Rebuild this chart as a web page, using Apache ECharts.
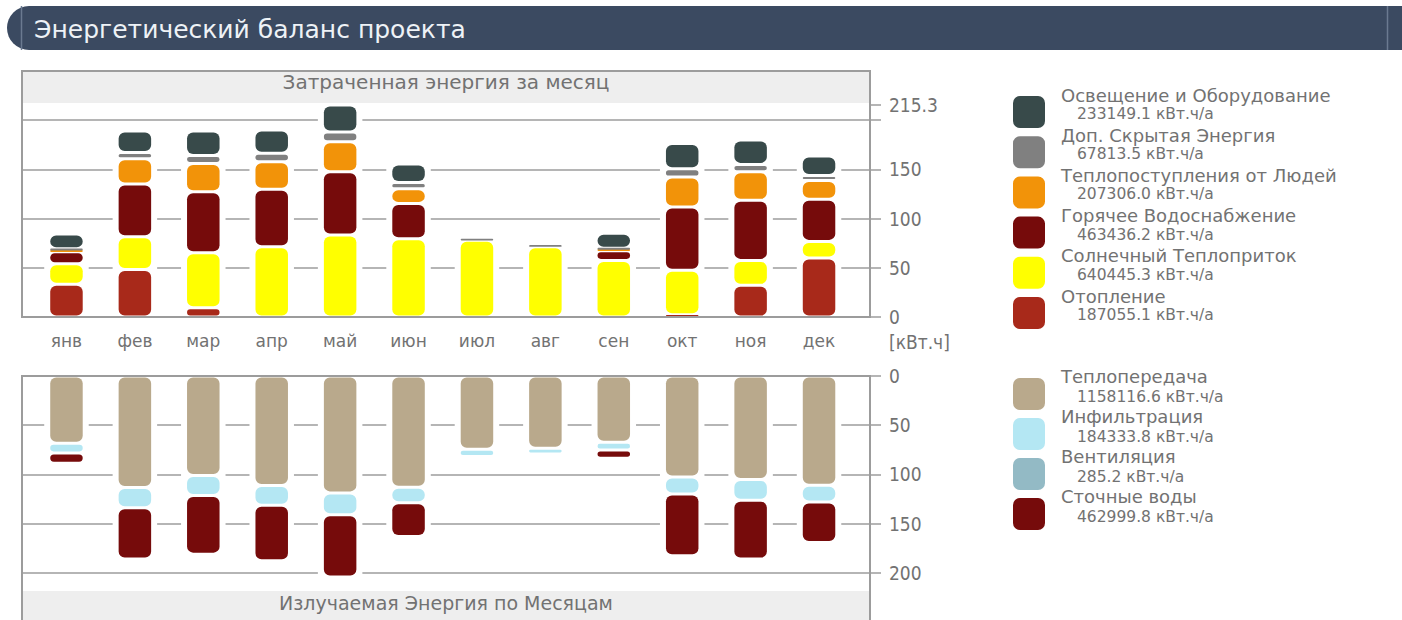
<!DOCTYPE html>
<html>
<head>
<meta charset="utf-8">
<script src="https://cdn.jsdelivr.net/npm/echarts@6/dist/echarts.min.js"></script>
<style>
  html, body { margin: 0; padding: 0; background: #ffffff; }
  #chart { width: 1402px; height: 620px; }
</style>
</head>
<body>
<div id="chart"></div>
<script>
// ---- data ---------------------------------------------------------------
const months = ['янв', 'фев', 'мар', 'апр', 'май', 'июн', 'июл', 'авг', 'сен', 'окт', 'ноя', 'дек'];

// consumed energy per month (stacked from the bottom up)
const heating  = [33.3, 48.2, 9.5, 0, 0, 0, 0, 0, 0, 2.4, 32.2, 59.9];
const solar    = [20.8, 33.3, 55.8, 71.4, 83.2, 79.5, 77.9, 71.4, 57.5, 45.0, 25.3, 16.9];
const hotWater = [12.2, 53.5, 61.9, 58.4, 64.3, 35.7, 0, 0, 9.8, 64.3, 61.0, 42.8];
const people   = [1.5, 25.6, 28.8, 27.9, 30.5, 15.1, 0, 0, 1.5, 30.4, 29.0, 19.0];
const latent   = [1.5, 6.4, 8.1, 8.5, 9.8, 6.2, 1.5, 1.5, 1.0, 8.5, 7.5, 5.2];
const lighting = [15.0, 21.8, 24.7, 23.6, 27.5, 18.8, 0, 0, 15.2, 25.7, 24.7, 19.7];

// emitted energy per month (stacked from the top down)
const transmission = [68.3, 113.3, 101.1, 111.2, 118.7, 113.1, 74.5, 73.4, 67.4, 102.6, 105.1, 110.9];
const infiltration = [9.8, 20.6, 20.3, 20.0, 22.3, 15.7, 7.3, 5.7, 7.7, 17.3, 21.0, 17.1];
const ventilation  = [0, 0, 0, 0, 0, 0, 0, 0, 0, 0, 0, 0];
const wastewater   = [10.5, 52.0, 59.5, 56.4, 63.2, 34.2, 0, 0, 8.4, 62.7, 59.8, 41.0];

const consumedNames  = ['Освещение и Оборудование', 'Доп. Скрытая Энергия', 'Теплопоступления от Людей',
                        'Горячее Водоснабжение', 'Солнечный Теплоприток', 'Отопление'];
const consumedTotals = ['233149.1', '67813.5', '207306.0', '463436.2', '640445.3', '187055.1'];
const emittedNames   = ['Теплопередача', 'Инфильтрация', 'Вентиляция', 'Сточные воды'];
const emittedTotals  = ['1158116.6', '184333.8', '285.2', '462999.8'];
const unitYear = 'кВт.ч/а';

const axisMax = 215.3;
const topTickLabels    = [0, 50, 100, 150, 215.3];
const topTicks         = [0, 50, 100, 150, 200, 215.3];
const bottomTickLabels = [0, 50, 100, 150, 200];

const chartTitle   = 'Энергетический баланс проекта';
const topTitle     = 'Затраченная энергия за месяц';
const bottomTitle  = 'Излучаемая Энергия по Месяцам';
const unitLabel    = '[кВт.ч]';

// ---- styling ------------------------------------------------------------
const C = {
  lighting: '#384a4a', latent: '#808080', people: '#f29309', hotWater: '#760b0b',
  solar: '#ffff00', heating: '#a8291a',
  transmission: '#b9a98c', infiltration: '#b4e7f3', ventilation: '#93bac5', wastewater: '#760b0b',
  grid: '#9c9c9c', text: '#727272', band: '#eeeeee', banner: '#3b4a61'
};
const FONT = "'DejaVu Sans', sans-serif";
const NUM_FONT = "'DejaVu Sans Condensed', 'DejaVu Sans', sans-serif";
const BAR_RATIO = 0.475;   // bar width as share of one month slot
const GAP = 3;             // white gap between stacked pieces
const X_MIN = -0.65, X_MAX = 11.745;

// ---- helpers --------------------------------------------------------------
function stackBases(layers) {
  const bases = [];
  let run = months.map(() => 0);
  layers.forEach(vals => {
    bases.push(run.slice());
    run = run.map((v, i) => v + vals[i]);
  });
  return { bases, totals: run };
}

function pieceRenderer(color) {
  return function (params, api) {
    const val = api.value(2);
    if (!(val > 0)) return null;
    const i = api.value(0), base = api.value(1);
    const p0 = api.coord([i, base]);
    const p1 = api.coord([i, base + val]);
    const bw = api.size([1, 0])[0] * BAR_RATIO;
    const top = Math.min(p0[1], p1[1]), bot = Math.max(p0[1], p1[1]);
    let y = top + GAP / 2, h = bot - top - GAP;
    if (h < 1.8) { const c = (top + bot) / 2; y = c - 0.9; h = 1.8; }
    const r = Math.min(6, h / 2);
    return {
      type: 'rect',
      shape: { x: p0[0] - bw / 2, y: y, width: bw, height: h, r: r },
      style: { fill: color }
    };
  };
}

// white backing behind each column so grid lines stop short of the bars
function haloRenderer(params, api) {
  const total = api.value(1);
  if (!(total > 0)) return null;
  const i = api.value(0);
  const p0 = api.coord([i, 0]);
  const p1 = api.coord([i, total]);
  const bw = api.size([1, 0])[0] * BAR_RATIO + 12;
  const dir = p1[1] < p0[1] ? -1 : 1;
  const yStart = p0[1] + dir * 1.6;
  const yEnd = p1[1] + dir * 3;
  return {
    type: 'rect',
    shape: { x: p0[0] - bw / 2, y: Math.min(yStart, yEnd), width: bw, height: Math.abs(yEnd - yStart) },
    style: { fill: '#ffffff' }
  };
}

const topLayers = [
  { name: 'Отопление', vals: heating, color: C.heating },
  { name: 'Солнечный Теплоприток', vals: solar, color: C.solar },
  { name: 'Горячее Водоснабжение', vals: hotWater, color: C.hotWater },
  { name: 'Теплопоступления от Людей', vals: people, color: C.people },
  { name: 'Доп. Скрытая Энергия', vals: latent, color: C.latent },
  { name: 'Освещение и Оборудование', vals: lighting, color: C.lighting }
];
const bottomLayers = [
  { name: 'Теплопередача', vals: transmission, color: C.transmission },
  { name: 'Инфильтрация', vals: infiltration, color: C.infiltration },
  { name: 'Вентиляция', vals: ventilation, color: C.ventilation },
  { name: 'Сточные воды', vals: wastewater, color: C.wastewater }
];

function buildSeries(layers, axisIndex, idPrefix) {
  const st = stackBases(layers.map(l => l.vals));
  const out = [{
    id: idPrefix + '-halo', type: 'custom', xAxisIndex: axisIndex, yAxisIndex: axisIndex,
    z: 1, silent: true, renderItem: haloRenderer,
    data: st.totals.map((t, i) => [i, t])
  }];
  layers.forEach((l, k) => {
    out.push({
      name: l.name, type: 'custom', xAxisIndex: axisIndex, yAxisIndex: axisIndex, z: 2,
      renderItem: pieceRenderer(l.color),
      itemStyle: { color: l.color },
      encode: { x: 0, y: [1, 2] },
      data: l.vals.map((v, i) => [i, st.bases[k][i], v])
    });
  });
  return out;
}

const monthIdx = months.map((m, i) => i);

function xAxisCfg(gridIndex, showLabels, position) {
  return {
    type: 'value', gridIndex: gridIndex, min: X_MIN, max: X_MAX, position: position,
    axisLine: { show: true, onZero: false, lineStyle: { color: C.grid, width: 2 } },
    axisTick: { show: false },
    splitLine: { show: false },
    axisLabel: {
      show: showLabels, customValues: monthIdx, margin: 15,
      formatter: v => months[Math.round(v)] || '',
      color: C.text, fontFamily: FONT, fontSize: 17
    }
  };
}

function yAxisCfg(gridIndex, inverse, labels, ticks, showMaxLine, extra) {
  return Object.assign({
    type: 'value', gridIndex: gridIndex, position: 'right', inverse: inverse,
    min: 0, max: axisMax, interval: 50,
    axisLine: { show: true, onZero: false, lineStyle: { color: C.grid, width: 2 } },
    axisTick: { show: true, inside: false, length: 11, customValues: ticks, lineStyle: { color: C.grid, width: 1.5 } },
    splitLine: { show: true, showMinLine: false, showMaxLine: showMaxLine, lineStyle: { color: C.grid, width: 1.5 } },
    axisLabel: {
      customValues: labels, margin: 19, color: C.text,
      fontFamily: NUM_FONT, fontSize: 19,
      formatter: v => String(v)
    }
  }, extra || {});
}

// ---- decorative frame, title banner and legend --------------------------
const graphics = [
  // title banner
  { type: 'rect', z: 20, shape: { x: 7, y: 6, width: 1420, height: 44, r: 22 }, style: { fill: C.banner } },
  { type: 'line', z: 21, shape: { x1: 21.5, y1: 6, x2: 21.5, y2: 50 }, style: { stroke: '#6b7a90', lineWidth: 1.5 } },
  { type: 'line', z: 21, shape: { x1: 1387.5, y1: 6, x2: 1387.5, y2: 50 }, style: { stroke: '#6b7a90', lineWidth: 1.5 } },
  { type: 'text', z: 22, x: 34, y: 29, style: { text: chartTitle, fill: '#eef2f6', font: '25px ' + FONT, verticalAlign: 'middle' } },

  // consumed-energy panel frame + caption band
  { type: 'rect', z: 10, shape: { x: 23, y: 72, width: 846, height: 31 }, style: { fill: C.band } },
  { type: 'rect', z: 11, shape: { x: 22, y: 71, width: 848, height: 246 }, style: { fill: 'none', stroke: C.grid, lineWidth: 2 } },
  { type: 'text', z: 12, x: 446, y: 82, style: { text: topTitle, fill: C.text, font: '20px ' + FONT, align: 'center', verticalAlign: 'middle' } },

  // emitted-energy panel frame + caption band
  { type: 'rect', z: 10, shape: { x: 23, y: 591, width: 846, height: 40 }, style: { fill: C.band } },
  { type: 'rect', z: 11, shape: { x: 22, y: 376, width: 848, height: 270 }, style: { fill: 'none', stroke: C.grid, lineWidth: 2 } },
  { type: 'text', z: 12, x: 446, y: 603, style: { text: bottomTitle, fill: C.text, font: '19px ' + FONT, align: 'center', verticalAlign: 'middle' } }
];

function addLegend(names, totals, colors, iconTop, step, nameDy, valueDy) {
  names.forEach((n, i) => {
    const y0 = iconTop + step * i;
    graphics.push(
      { type: 'rect', z: 10, shape: { x: 1013, y: y0, width: 32, height: 32, r: 7 }, style: { fill: colors[i] } },
      { type: 'text', z: 10, x: 1061, y: y0 + nameDy, style: { text: n, fill: C.text, font: '18px ' + FONT, verticalAlign: 'middle' } },
      { type: 'text', z: 10, x: 1077, y: y0 + valueDy, style: { text: totals[i] + ' ' + unitYear, fill: C.text, font: '15.5px ' + FONT, verticalAlign: 'middle' } }
    );
  });
}
addLegend(consumedNames, consumedTotals,
  [C.lighting, C.latent, C.people, C.hotWater, C.solar, C.heating], 96, 40.2, -1, 18);
addLegend(emittedNames, emittedTotals,
  [C.transmission, C.infiltration, C.ventilation, C.wastewater], 378, 40, -2, 19);

// ---- chart ----------------------------------------------------------------
const chart = echarts.init(document.getElementById('chart'), null, { renderer: 'svg' });
chart.setOption({
  animation: false,
  backgroundColor: '#ffffff',
  grid: [
    { left: 22, right: 532, top: 105, bottom: 303, outerBoundsMode: 'none' },
    { left: 22, right: 532, top: 376, bottom: 32, outerBoundsMode: 'none' }
  ],
  xAxis: [
    xAxisCfg(0, true, 'bottom'),
    xAxisCfg(1, false, 'top')
  ],
  yAxis: [
    yAxisCfg(0, false, topTickLabels, topTicks, false, {
      name: unitLabel, nameLocation: 'start', nameGap: 15,
      nameTextStyle: { color: C.text, fontFamily: NUM_FONT, fontSize: 19, align: 'left', verticalAlign: 'top', padding: [0, 0, 0, 19] }
    }),
    yAxisCfg(1, true, bottomTickLabels, bottomTickLabels, true)
  ],
  series: buildSeries(topLayers, 0, 'consumed').concat(buildSeries(bottomLayers, 1, 'emitted')),
  graphic: graphics
});
</script>
</body>
</html>
